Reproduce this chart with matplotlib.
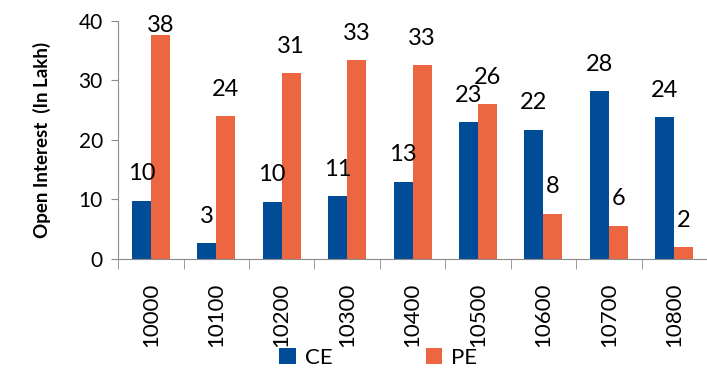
import numpy as np
import matplotlib.pyplot as plt

plt.rcParams['font.family'] = ['Lato', 'DejaVu Sans']

strikes = ['10000', '10100', '10200', '10300', '10400', '10500', '10600', '10700', '10800']
ce = [9.8, 2.6, 9.6, 10.6, 13.0, 23.0, 21.7, 28.2, 23.8]
pe = [37.6, 24.0, 31.2, 33.4, 32.6, 26.0, 7.6, 5.6, 2.0]

ce_color = '#004C97'
pe_color = '#EC6641'
grey = '#8C8C8C'

fig = plt.figure(figsize=(7.07, 3.73), dpi=100)
ax = fig.add_axes([0.167, 0.306, 0.833, 0.638])

x = np.arange(len(strikes))
w = 0.29
ax.bar(x - w/2, ce, w, color=ce_color, label='CE')
ax.bar(x + w/2, pe, w, color=pe_color, label='PE')

# value labels above each bar, kept inside the top of the plot
for xs, vals in [(x - w/2, ce), (x + w/2, pe)]:
    for xi, v in zip(xs, vals):
        ax.text(xi, min(v + 4.5, 39.3), str(int(round(v))), ha='center', va='center',
                fontsize=17, color='black', clip_on=False)

ax.set_xlim(-0.5, len(strikes) - 0.5)
ax.set_ylim(0, 40)
ax.set_yticks([0, 10, 20, 30, 40])
ax.set_xticks(x)
ax.set_xticklabels(strikes, rotation=90, fontsize=16)
ax.set_xticks(np.arange(len(strikes) + 1) - 0.5, minor=True)
ax.tick_params(axis='x', which='major', length=0, pad=17)
ax.tick_params(axis='x', which='minor', length=7, color=grey)
ax.tick_params(axis='y', labelsize=15, length=5, color=grey, pad=6)

for s in ['top', 'right']:
    ax.spines[s].set_visible(False)
for s in ['left', 'bottom']:
    ax.spines[s].set_color(grey)

ax.set_ylabel('Open Interest  (In Lakh)', fontsize=13.5, fontweight='bold', labelpad=20)

fig.legend(loc='center', bbox_to_anchor=(0.535, 0.04), ncol=2, frameon=False,
           fontsize=16, handlelength=0.75, handleheight=0.75, columnspacing=4.2, handletextpad=0.4)

fig.savefig('out.png', dpi=100)
